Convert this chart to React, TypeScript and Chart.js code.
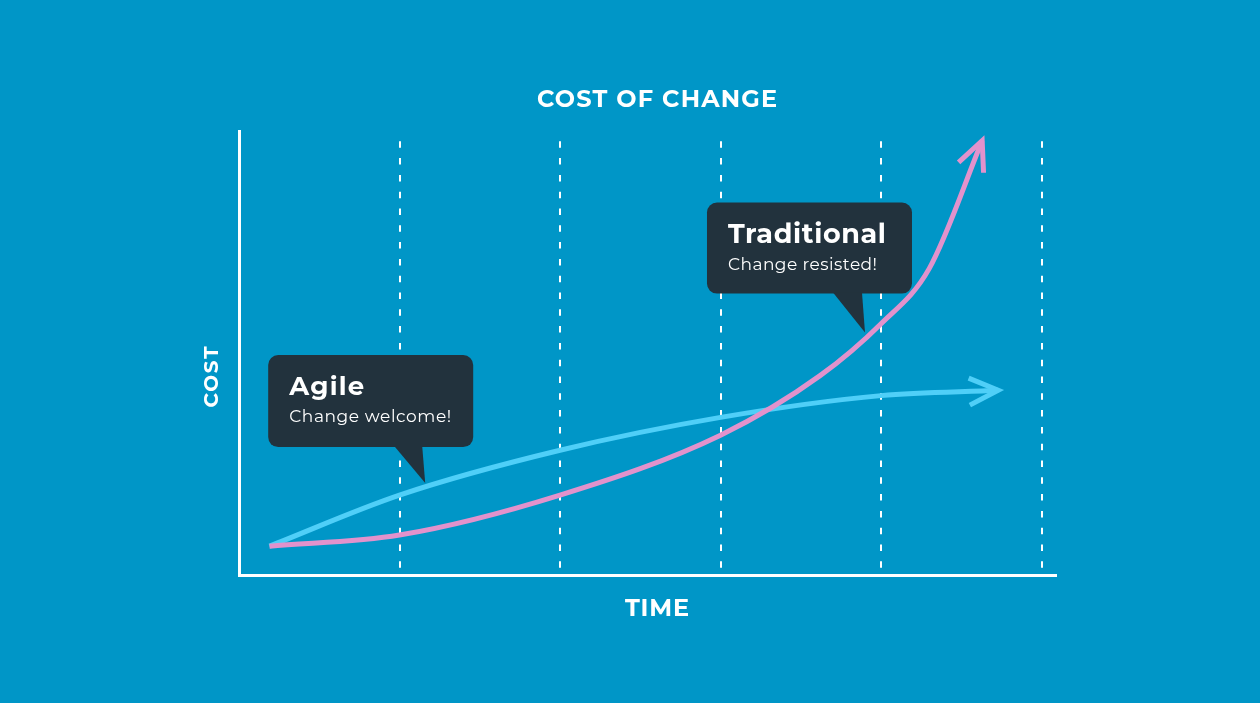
import React, { useEffect, useRef } from 'react';
import { Chart, registerables } from 'chart.js';

Chart.register(...registerables);

// ---------- data ----------
const CHART_TITLE = 'COST OF CHANGE';
const X_LABEL = 'TIME';
const Y_LABEL = 'COST';
const TIME_GRID = [1, 2, 3, 4, 5];
const TIME_MAX = 5.09;
const COST_MAX = 10;

const AGILE_TIME = [0.19, 1.0, 2.0, 3.0, 4.0, 4.73];
const AGILE_COST = [0.65, 1.8, 2.81, 3.55, 4.04, 4.16];

const TRAD_TIME = [0.19, 1.0, 2.0, 3.0, 3.62, 4.0, 4.3, 4.63];
const TRAD_COST = [0.65, 0.9, 1.8, 3.15, 4.49, 5.66, 6.9, 9.78];

const CALLOUT_TITLES = ['Agile', 'Traditional'];
const CALLOUT_TEXTS = ['Change welcome!', 'Change resisted!'];
const CALLOUT_ANCHOR_TIME = [1.16, 3.9];
const CALLOUT_ANCHOR_COST = [2.07, 5.46];

// ---------- styles ----------
const BG = '#0096C7';
const BOX = '#22323D';
const BLUE = '#4FCFF8';
const PINK = '#E292CC';
const FONT = '"Montserrat", "Open Sans", sans-serif';

function fitText(
  ctx: CanvasRenderingContext2D,
  text: string,
  x: number,
  y: number,
  font: string,
  targetW: number,
  align: 'left' | 'center'
) {
  ctx.font = font;
  (ctx as any).letterSpacing = '0px';
  const w0 = ctx.measureText(text).width;
  let ls = (targetW - w0) / Math.max(1, text.length - 1);
  ls = Math.max(-1, Math.min(3, ls));
  (ctx as any).letterSpacing = ls + 'px';
  const w = ctx.measureText(text).width - ls;
  ctx.textAlign = 'left';
  ctx.textBaseline = 'alphabetic';
  ctx.fillText(text, align === 'center' ? x - w / 2 : x, y);
  (ctx as any).letterSpacing = '0px';
}

const decorPlugin = {
  id: 'decor',
  beforeDraw(chart: any) {
    const ctx = chart.ctx;
    ctx.save();
    ctx.fillStyle = BG;
    ctx.fillRect(0, 0, chart.width, chart.height);
    ctx.restore();
  },
  afterDatasetsDraw(chart: any) {
    const ctx: CanvasRenderingContext2D = chart.ctx;
    const xs = chart.scales.x;
    const ys = chart.scales.y;
    // arrow heads
    chart.data.datasets.forEach((ds: any, i: number) => {
      const meta = chart.getDatasetMeta(i);
      const pts = meta.data;
      const last = pts[pts.length - 1];
      let px = last.cp1x, py = last.cp1y;
      if (px === undefined || (Math.abs(px - last.x) < 0.5 && Math.abs(py - last.y) < 0.5)) {
        px = pts[pts.length - 2].x;
        py = pts[pts.length - 2].y;
      }
      const ang = Math.atan2(last.y - py, last.x - px);
      const L = 32;
      const half = (25 * Math.PI) / 180;
      ctx.save();
      ctx.strokeStyle = ds.borderColor;
      ctx.lineWidth = 5;
      ctx.lineJoin = 'miter';
      ctx.lineCap = 'butt';
      ctx.beginPath();
      ctx.moveTo(last.x - L * Math.cos(ang - half), last.y - L * Math.sin(ang - half));
      ctx.lineTo(last.x, last.y);
      ctx.lineTo(last.x - L * Math.cos(ang + half), last.y - L * Math.sin(ang + half));
      ctx.stroke();
      ctx.restore();
    });
    // callouts
    const boxes = [
      { dx: -157, dy: -128, w: 205, h: 92, t1: -31, t2: -3, titleW: 75, textW: 162 },
      { dx: -158, dy: -130, w: 205, h: 91, t1: -32, t2: -3, titleW: 158, textW: 149 },
    ];
    CALLOUT_TITLES.forEach((title, i) => {
      const ax = xs.getPixelForValue(CALLOUT_ANCHOR_TIME[i]);
      const ay = ys.getPixelForValue(CALLOUT_ANCHOR_COST[i]);
      const b = boxes[i];
      const bx = ax + b.dx, by = ay + b.dy;
      ctx.save();
      ctx.fillStyle = BOX;
      ctx.beginPath();
      (ctx as any).roundRect(bx, by, b.w, b.h, 10);
      ctx.fill();
      ctx.beginPath();
      ctx.moveTo(ax + b.t1, by + b.h - 1);
      ctx.lineTo(ax + b.t2, by + b.h - 1);
      ctx.lineTo(ax, ay);
      ctx.closePath();
      ctx.fill();
      ctx.fillStyle = '#FFFFFF';
      fitText(ctx, title, bx + 21, by + 40, `700 ${i === 0 ? 26 : 27}px ${FONT}`, b.titleW, 'left');
      fitText(ctx, CALLOUT_TEXTS[i], bx + 21, by + 67, `400 17px ${FONT}`, b.textW, 'left');
      ctx.restore();
    });
  },
  afterDraw(chart: any) {
    const ctx: CanvasRenderingContext2D = chart.ctx;
    const area = chart.chartArea;
    ctx.save();
    ctx.fillStyle = '#FFFFFF';
    fitText(ctx, CHART_TITLE, 657, 107, `700 24px ${FONT}`, 240, 'center');
    fitText(ctx, X_LABEL, 657, 616, `700 24px ${FONT}`, 64, 'center');
    ctx.translate(area.left - 21, (area.top + area.bottom) / 2 + 24);
    ctx.rotate(-Math.PI / 2);
    fitText(ctx, Y_LABEL, 0, 0, `700 20px ${FONT}`, 61, 'center');
    ctx.restore();
  },
};

export default function App() {
  const ref = useRef<HTMLCanvasElement>(null);
  useEffect(() => {
    const canvas = ref.current;
    if (!canvas) return;
    const chart = new Chart(canvas, {
      type: 'line',
      data: {
        datasets: [
          {
            label: 'Traditional',
            data: TRAD_TIME.map((t, i) => ({ x: t, y: TRAD_COST[i] })),
            borderColor: PINK,
            borderWidth: 5,
            pointRadius: 0,
            cubicInterpolationMode: 'monotone',
            fill: false,
          },
          {
            label: 'Agile',
            data: AGILE_TIME.map((t, i) => ({ x: t, y: AGILE_COST[i] })),
            borderColor: BLUE,
            borderWidth: 5,
            pointRadius: 0,
            cubicInterpolationMode: 'monotone',
            fill: false,
          },
        ],
      },
      options: {
        animation: false,
        responsive: false,
        maintainAspectRatio: false,
        devicePixelRatio: 1,
        layout: { padding: { left: 239, right: 1260 - 1056, top: 131, bottom: 703 - 575 } },
        plugins: { legend: { display: false }, tooltip: { enabled: false }, title: { display: false } },
        scales: {
          x: {
            type: 'linear',
            min: 0,
            max: TIME_MAX,
            afterBuildTicks: (scale: any) => {
              scale.ticks = [0, ...TIME_GRID, TIME_MAX].map((v) => ({ value: v }));
            },
            ticks: { display: false, stepSize: 1 },
            grid: {
              drawTicks: false,
              lineWidth: 2,
              color: (c: any) =>
                c.tick && TIME_GRID.includes(c.tick.value) ? '#FFFFFF' : 'rgba(0,0,0,0)',
            },
            border: { display: true, color: '#FFFFFF', width: 3, dash: [6.5, 10.3], dashOffset: 6.5 },
          },
          y: {
            type: 'linear',
            min: 0,
            max: COST_MAX,
            ticks: { display: false },
            grid: { drawTicks: false, color: 'rgba(0,0,0,0)' },
            border: { display: true, color: '#FFFFFF', width: 3 },
          },
        },
      },
      plugins: [decorPlugin],
    } as any);
    return () => chart.destroy();
  }, []);
  return (
    <div style={{ position: 'fixed', left: 0, top: 0, width: 1260, height: 703, background: BG }}>
      <canvas ref={ref} width={1260} height={703} style={{ display: 'block', width: 1260, height: 703 }} />
    </div>
  );
}
